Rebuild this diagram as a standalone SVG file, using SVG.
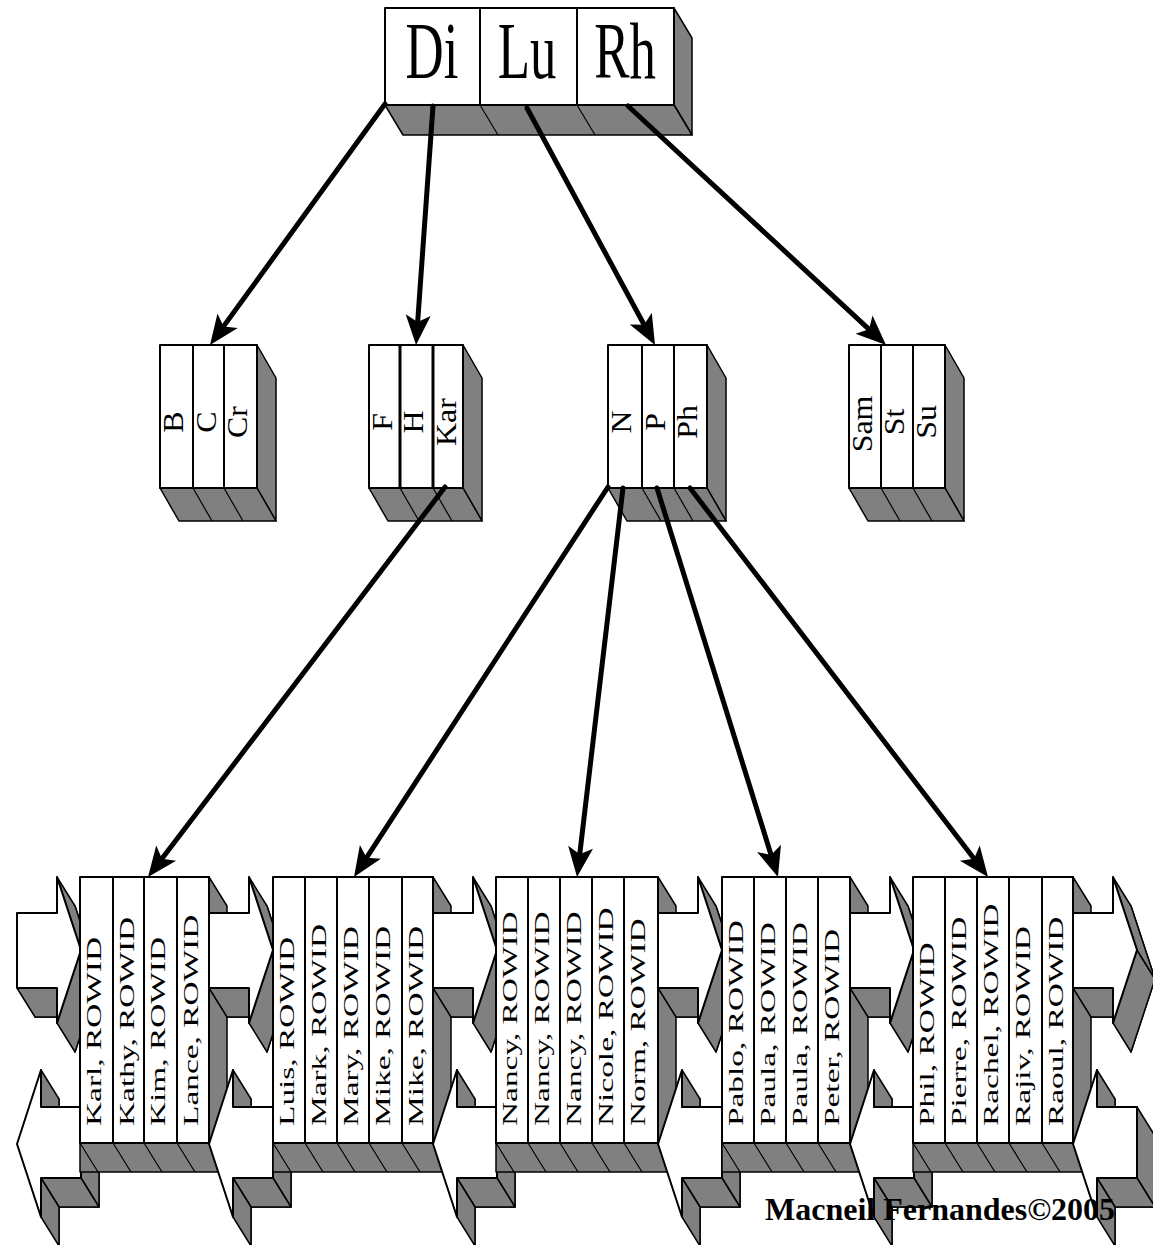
<svg xmlns="http://www.w3.org/2000/svg" width="1153" height="1245" viewBox="0 0 1153 1245">
<style>
  .face{fill:#fff;stroke:#000;stroke-width:2;stroke-linejoin:round}
  .side{fill:#808080;stroke:#000;stroke-width:1.5;stroke-linejoin:round}
  .div{stroke:#000;stroke-width:2}
  .bold{stroke:#000;stroke-width:3}
  .sl{stroke:#000;stroke-width:1.2;fill:none}
  .t{font-family:"Liberation Serif","Times New Roman",serif;fill:#000}
  .conn{stroke:#000;stroke-width:5;fill:none;stroke-linecap:round;marker-end:url(#head)}
</style>
<defs>
  <marker id="head" markerUnits="userSpaceOnUse" viewBox="-16 -14 32 28" refX="0" refY="0" markerWidth="32" markerHeight="28" orient="auto">
    <path d="M15,0 L-15,-12.5 L-8,0 L-15,12.5 Z" fill="#000"/>
  </marker>
</defs>
<rect width="1153" height="1245" fill="#fff"/>

<!-- root block -->
<g id="root">
  <polygon class="side" points="674,8 692,38 692,135 674,105"/>
  <polygon class="side" points="385,105 674,105 692,135 403,135"/>
  <line class="sl" x1="480" y1="105" x2="498" y2="135"/>
  <line class="sl" x1="577" y1="105" x2="595" y2="135"/>
  <rect class="face" x="385" y="8" width="289" height="97"/>
  <line class="div" x1="480" y1="8" x2="480" y2="105"/>
  <line class="div" x1="577" y1="8" x2="577" y2="105"/>
  <text class="t" font-size="80" text-anchor="middle" transform="translate(432,78) scale(0.66,1)">Di</text>
  <text class="t" font-size="80" text-anchor="middle" transform="translate(527,78) scale(0.66,1)">Lu</text>
  <text class="t" font-size="80" text-anchor="middle" transform="translate(625,78) scale(0.66,1)">Rh</text>
</g>

<!-- branch blocks -->
<g id="branch-b">
  <polygon class="side" points="257,345 276,378 276,521 257,488"/>
  <polygon class="side" points="160,488 257,488 276,521 179,521"/>
  <line class="sl" x1="193" y1="488" x2="212" y2="521"/>
  <line class="sl" x1="224" y1="488" x2="243" y2="521"/>
  <rect class="face" x="160" y="345" width="97" height="143"/>
  <line class="div" x1="193" y1="345" x2="193" y2="488"/>
  <line class="div" x1="224" y1="345" x2="224" y2="488"/>
  <text class="t" font-size="29" text-anchor="middle" transform="translate(183,422) rotate(-90) scale(1.1,1)">B</text>
  <text class="t" font-size="29" text-anchor="middle" transform="translate(216,422) rotate(-90) scale(1.1,1)">C</text>
  <text class="t" font-size="29" text-anchor="middle" transform="translate(247,422) rotate(-90) scale(1.1,1)">Cr</text>
</g>
<g id="branch-f">
  <polygon class="side" points="463,345 482,378 482,521 463,488"/>
  <polygon class="side" points="369,488 463,488 482,521 388,521"/>
  <line class="sl" x1="400" y1="488" x2="419" y2="521"/>
  <line class="sl" x1="433" y1="488" x2="452" y2="521"/>
  <rect class="face" x="369" y="345" width="94" height="143"/>
  <line class="bold" x1="400" y1="345" x2="400" y2="488"/>
  <line class="bold" x1="433" y1="345" x2="433" y2="488"/>
  <text class="t" font-size="29" text-anchor="middle" transform="translate(392,422) rotate(-90) scale(1.1,1)">F</text>
  <text class="t" font-size="29" text-anchor="middle" transform="translate(423,422) rotate(-90) scale(1.1,1)">H</text>
  <text class="t" font-size="29" text-anchor="middle" transform="translate(456,422) rotate(-90) scale(1.1,1)">Kar</text>
</g>
<g id="branch-n">
  <polygon class="side" points="707,345 726,378 726,521 707,488"/>
  <polygon class="side" points="608,488 707,488 726,521 627,521"/>
  <line class="sl" x1="642" y1="488" x2="661" y2="521"/>
  <line class="sl" x1="674" y1="488" x2="693" y2="521"/>
  <rect class="face" x="608" y="345" width="99" height="143"/>
  <line class="div" x1="642" y1="345" x2="642" y2="488"/>
  <line class="div" x1="674" y1="345" x2="674" y2="488"/>
  <text class="t" font-size="29" text-anchor="middle" transform="translate(631,422) rotate(-90) scale(1.1,1)">N</text>
  <text class="t" font-size="29" text-anchor="middle" transform="translate(665,422) rotate(-90) scale(1.1,1)">P</text>
  <text class="t" font-size="29" text-anchor="middle" transform="translate(697,422) rotate(-90) scale(1.1,1)">Ph</text>
</g>
<g id="branch-s">
  <polygon class="side" points="945,345 964,378 964,521 945,488"/>
  <polygon class="side" points="849,488 945,488 964,521 868,521"/>
  <line class="sl" x1="881" y1="488" x2="900" y2="521"/>
  <line class="sl" x1="913" y1="488" x2="932" y2="521"/>
  <rect class="face" x="849" y="345" width="96" height="143"/>
  <line class="div" x1="881" y1="345" x2="881" y2="488"/>
  <line class="div" x1="913" y1="345" x2="913" y2="488"/>
  <text class="t" font-size="29" text-anchor="middle" transform="translate(872,424) rotate(-90) scale(1.1,1)">Sam</text>
  <text class="t" font-size="29" text-anchor="middle" transform="translate(904,422) rotate(-90) scale(1.1,1)">St</text>
  <text class="t" font-size="29" text-anchor="middle" transform="translate(936,422) rotate(-90) scale(1.1,1)">Su</text>
</g>

<!-- leaf chain: sibling link arrows interleaved with leaf blocks -->
<g id="link-0">
  <polygon class="side" points="35,942 75,942 75,906 99,979 75,1052 75,1017 35,1017"/>
  <polygon class="side" points="17,988 57,988 75,1017 35,1017"/>
  <polygon class="side" points="57,1023 81,950 99,979 75,1052"/>
  <polygon class="side" points="81,950 57,877 75,906 99,979"/>
  <polygon class="face" points="17,913 57,913 57,877 81,950 57,1023 57,988 17,988"/>
  <polygon class="side" points="35,1173 59,1099 59,1136 99,1136 99,1207 59,1207 59,1246"/>
  <polygon class="side" points="41,1070 41,1107 59,1136 59,1099"/>
  <polygon class="side" points="81,1107 81,1178 99,1207 99,1136"/>
  <polygon class="side" points="41,1178 81,1178 99,1207 59,1207"/>
  <polygon class="side" points="41,1178 41,1217 59,1246 59,1207"/>
  <polygon class="face" points="17,1144 41,1070 41,1107 81,1107 81,1178 41,1178 41,1217"/>
</g>
<g id="leaf-k">
  <polygon class="side" points="209,877 227,906 227,1172 209,1143"/>
  <polygon class="side" points="80,1143 209,1143 227,1172 80,1172"/>
  <path class="sl" d="M80,1143 L98,1172 M113,1143 L131,1172 M144,1143 L162,1172 M177,1143 L195,1172"/>
  <rect class="face" x="80" y="877" width="129" height="266"/>
  <path class="div" d="M113,877 V1143 M144,877 V1143 M177,877 V1143"/>
  <text class="t" font-size="21" transform="translate(101,1126) rotate(-90) scale(1.59,1)">Karl, ROWID</text>
  <text class="t" font-size="21" transform="translate(134,1126) rotate(-90) scale(1.59,1)">Kathy, ROWID</text>
  <text class="t" font-size="21" transform="translate(165,1126) rotate(-90) scale(1.59,1)">Kim, ROWID</text>
  <text class="t" font-size="21" transform="translate(198,1126) rotate(-90) scale(1.59,1)">Lance, ROWID</text>
</g>
<g id="link-1">
  <polygon class="side" points="227,942 267,942 267,906 291,979 267,1052 267,1017 227,1017"/>
  <polygon class="side" points="209,988 249,988 267,1017 227,1017"/>
  <polygon class="side" points="249,1023 273,950 291,979 267,1052"/>
  <polygon class="side" points="273,950 249,877 267,906 291,979"/>
  <polygon class="face" points="209,913 249,913 249,877 273,950 249,1023 249,988 209,988"/>
  <polygon class="side" points="227,1173 251,1099 251,1136 291,1136 291,1207 251,1207 251,1246"/>
  <polygon class="side" points="233,1070 233,1107 251,1136 251,1099"/>
  <polygon class="side" points="273,1107 273,1178 291,1207 291,1136"/>
  <polygon class="side" points="233,1178 273,1178 291,1207 251,1207"/>
  <polygon class="side" points="233,1178 233,1217 251,1246 251,1207"/>
  <polygon class="face" points="209,1144 233,1070 233,1107 273,1107 273,1178 233,1178 233,1217"/>
</g>
<g id="leaf-l">
  <polygon class="side" points="433,877 451,906 451,1172 433,1143"/>
  <polygon class="side" points="273,1143 433,1143 451,1172 273,1172"/>
  <path class="sl" d="M273,1143 L291,1172 M305,1143 L323,1172 M337,1143 L355,1172 M369,1143 L387,1172 M402,1143 L420,1172"/>
  <rect class="face" x="273" y="877" width="160" height="266"/>
  <path class="div" d="M305,877 V1143 M337,877 V1143 M369,877 V1143 M402,877 V1143"/>
  <text class="t" font-size="21" transform="translate(294,1126) rotate(-90) scale(1.59,1)">Luis, ROWID</text>
  <text class="t" font-size="21" transform="translate(326,1126) rotate(-90) scale(1.59,1)">Mark, ROWID</text>
  <text class="t" font-size="21" transform="translate(358,1126) rotate(-90) scale(1.59,1)">Mary, ROWID</text>
  <text class="t" font-size="21" transform="translate(390,1126) rotate(-90) scale(1.59,1)">Mike, ROWID</text>
  <text class="t" font-size="21" transform="translate(423,1126) rotate(-90) scale(1.59,1)">Mike, ROWID</text>
</g>
<g id="link-2">
  <polygon class="side" points="451,942 491,942 491,906 515,979 491,1052 491,1017 451,1017"/>
  <polygon class="side" points="433,988 473,988 491,1017 451,1017"/>
  <polygon class="side" points="473,1023 497,950 515,979 491,1052"/>
  <polygon class="side" points="497,950 473,877 491,906 515,979"/>
  <polygon class="face" points="433,913 473,913 473,877 497,950 473,1023 473,988 433,988"/>
  <polygon class="side" points="451,1173 475,1099 475,1136 515,1136 515,1207 475,1207 475,1246"/>
  <polygon class="side" points="457,1070 457,1107 475,1136 475,1099"/>
  <polygon class="side" points="497,1107 497,1178 515,1207 515,1136"/>
  <polygon class="side" points="457,1178 497,1178 515,1207 475,1207"/>
  <polygon class="side" points="457,1178 457,1217 475,1246 475,1207"/>
  <polygon class="face" points="433,1144 457,1070 457,1107 497,1107 497,1178 457,1178 457,1217"/>
</g>
<g id="leaf-n">
  <polygon class="side" points="658,877 676,906 676,1172 658,1143"/>
  <polygon class="side" points="496,1143 658,1143 676,1172 496,1172"/>
  <path class="sl" d="M496,1143 L514,1172 M528,1143 L546,1172 M560,1143 L578,1172 M592,1143 L610,1172 M624,1143 L642,1172"/>
  <rect class="face" x="496" y="877" width="162" height="266"/>
  <path class="div" d="M528,877 V1143 M560,877 V1143 M592,877 V1143 M624,877 V1143"/>
  <text class="t" font-size="21" transform="translate(517,1126) rotate(-90) scale(1.59,1)">Nancy, ROWID</text>
  <text class="t" font-size="21" transform="translate(549,1126) rotate(-90) scale(1.59,1)">Nancy, ROWID</text>
  <text class="t" font-size="21" transform="translate(581,1126) rotate(-90) scale(1.59,1)">Nancy, ROWID</text>
  <text class="t" font-size="21" transform="translate(613,1126) rotate(-90) scale(1.59,1)">Nicole, ROWID</text>
  <text class="t" font-size="21" transform="translate(645,1126) rotate(-90) scale(1.59,1)">Norm, ROWID</text>
</g>
<g id="link-3">
  <polygon class="side" points="676,942 716,942 716,906 740,979 716,1052 716,1017 676,1017"/>
  <polygon class="side" points="658,988 698,988 716,1017 676,1017"/>
  <polygon class="side" points="698,1023 722,950 740,979 716,1052"/>
  <polygon class="side" points="722,950 698,877 716,906 740,979"/>
  <polygon class="face" points="658,913 698,913 698,877 722,950 698,1023 698,988 658,988"/>
  <polygon class="side" points="676,1173 700,1099 700,1136 740,1136 740,1207 700,1207 700,1246"/>
  <polygon class="side" points="682,1070 682,1107 700,1136 700,1099"/>
  <polygon class="side" points="722,1107 722,1178 740,1207 740,1136"/>
  <polygon class="side" points="682,1178 722,1178 740,1207 700,1207"/>
  <polygon class="side" points="682,1178 682,1217 700,1246 700,1207"/>
  <polygon class="face" points="658,1144 682,1070 682,1107 722,1107 722,1178 682,1178 682,1217"/>
</g>
<g id="leaf-p">
  <polygon class="side" points="850,877 868,906 868,1172 850,1143"/>
  <polygon class="side" points="722,1143 850,1143 868,1172 722,1172"/>
  <path class="sl" d="M722,1143 L740,1172 M754,1143 L772,1172 M786,1143 L804,1172 M818,1143 L836,1172"/>
  <rect class="face" x="722" y="877" width="128" height="266"/>
  <path class="div" d="M754,877 V1143 M786,877 V1143 M818,877 V1143"/>
  <text class="t" font-size="21" transform="translate(743,1126) rotate(-90) scale(1.59,1)">Pablo, ROWID</text>
  <text class="t" font-size="21" transform="translate(775,1126) rotate(-90) scale(1.59,1)">Paula, ROWID</text>
  <text class="t" font-size="21" transform="translate(807,1126) rotate(-90) scale(1.59,1)">Paula, ROWID</text>
  <text class="t" font-size="21" transform="translate(839,1126) rotate(-90) scale(1.59,1)">Peter, ROWID</text>
</g>
<g id="link-4">
  <polygon class="side" points="868,942 908,942 908,906 932,979 908,1052 908,1017 868,1017"/>
  <polygon class="side" points="850,988 890,988 908,1017 868,1017"/>
  <polygon class="side" points="890,1023 914,950 932,979 908,1052"/>
  <polygon class="side" points="914,950 890,877 908,906 932,979"/>
  <polygon class="face" points="850,913 890,913 890,877 914,950 890,1023 890,988 850,988"/>
  <polygon class="side" points="868,1173 892,1099 892,1136 932,1136 932,1207 892,1207 892,1246"/>
  <polygon class="side" points="874,1070 874,1107 892,1136 892,1099"/>
  <polygon class="side" points="914,1107 914,1178 932,1207 932,1136"/>
  <polygon class="side" points="874,1178 914,1178 932,1207 892,1207"/>
  <polygon class="side" points="874,1178 874,1217 892,1246 892,1207"/>
  <polygon class="face" points="850,1144 874,1070 874,1107 914,1107 914,1178 874,1178 874,1217"/>
</g>
<g id="leaf-r">
  <polygon class="side" points="1073,877 1091,906 1091,1172 1073,1143"/>
  <polygon class="side" points="913,1143 1073,1143 1091,1172 913,1172"/>
  <path class="sl" d="M913,1143 L931,1172 M945,1143 L963,1172 M977,1143 L995,1172 M1009,1143 L1027,1172 M1042,1143 L1060,1172"/>
  <rect class="face" x="913" y="877" width="160" height="266"/>
  <path class="div" d="M945,877 V1143 M977,877 V1143 M1009,877 V1143 M1042,877 V1143"/>
  <text class="t" font-size="21" transform="translate(934,1126) rotate(-90) scale(1.59,1)">Phil, ROWID</text>
  <text class="t" font-size="21" transform="translate(966,1126) rotate(-90) scale(1.59,1)">Pierre, ROWID</text>
  <text class="t" font-size="21" transform="translate(998,1126) rotate(-90) scale(1.59,1)">Rachel, ROWID</text>
  <text class="t" font-size="21" transform="translate(1030,1126) rotate(-90) scale(1.59,1)">Rajiv, ROWID</text>
  <text class="t" font-size="21" transform="translate(1063,1126) rotate(-90) scale(1.59,1)">Raoul, ROWID</text>
</g>
<g id="link-5">
  <polygon class="side" points="1091,942 1131,942 1131,906 1155,979 1131,1052 1131,1017 1091,1017"/>
  <polygon class="side" points="1073,988 1113,988 1131,1017 1091,1017"/>
  <polygon class="side" points="1113,1023 1137,950 1155,979 1131,1052"/>
  <polygon class="side" points="1137,950 1113,877 1131,906 1155,979"/>
  <polygon class="face" points="1073,913 1113,913 1113,877 1137,950 1113,1023 1113,988 1073,988"/>
  <polygon class="side" points="1091,1173 1115,1099 1115,1136 1155,1136 1155,1207 1115,1207 1115,1246"/>
  <polygon class="side" points="1097,1070 1097,1107 1115,1136 1115,1099"/>
  <polygon class="side" points="1137,1107 1137,1178 1155,1207 1155,1136"/>
  <polygon class="side" points="1097,1178 1137,1178 1155,1207 1115,1207"/>
  <polygon class="side" points="1097,1178 1097,1217 1115,1246 1115,1207"/>
  <polygon class="face" points="1073,1144 1097,1070 1097,1107 1137,1107 1137,1178 1097,1178 1097,1217"/>
</g>

<!-- tree pointers -->
<g id="connectors">
  <line class="conn" x1="385" y1="104" x2="218.8" y2="332.9"/>
  <line class="conn" x1="433" y1="106" x2="417.1" y2="330"/>
  <line class="conn" x1="527" y1="108" x2="647.9" y2="331.8"/>
  <line class="conn" x1="628" y1="106" x2="875" y2="334.8"/>
  <line class="conn" x1="445" y1="487" x2="157.1" y2="865.1"/>
  <line class="conn" x1="608" y1="487" x2="362.2" y2="864.4"/>
  <line class="conn" x1="623" y1="488" x2="578.8" y2="862.1"/>
  <line class="conn" x1="657" y1="488" x2="773.5" y2="862.7"/>
  <line class="conn" x1="690" y1="488" x2="978.9" y2="865.1"/>
</g>

<text class="t" font-size="32" font-weight="bold" x="765" y="1220">Macneil Fernandes©2005</text>
</svg>
